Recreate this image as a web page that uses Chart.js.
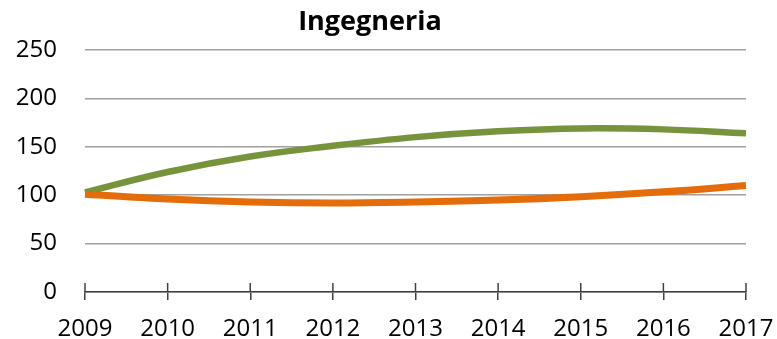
<!DOCTYPE html>
<html>

<head>
  <title>Ingegneria</title>
  <script src="https://cdn.jsdelivr.net/npm/chart.js"></script>
  <style>
    body {
      margin: 0;
      background: #fff;
    }

    .chart-wrap {
      position: relative;
      width: 777px;
      height: 339px;
    }

    .chart-title {
      position: absolute;
      left: 0;
      width: 740px;
      top: 1px;
      text-align: center;
      font-family: 'Open Sans', sans-serif;
      font-weight: bold;
      font-size: 27px;
      color: #000;
    }
  </style>
</head>

<body>
  <div class="chart-wrap">
    <div class="chart-title">Ingegneria</div>
    <canvas id="chart" width="777" height="339"></canvas>
  </div>
  <script>
    const years = ['2009', '2010', '2011', '2012', '2013', '2014', '2015', '2016', '2017'];
    const greenSeries = [103, 124, 140, 151, 160, 166, 169, 168, 164];
    const orangeSeries = [101, 96, 93, 92, 93, 95, 98.5, 103.5, 110];
    const yTicks = [0, 50, 100, 150, 200, 250];

    const labelFont = { family: 'Open Sans', size: 24 };

    // short tick marks that poke up above the x axis line
    const crossTicks = {
      id: 'crossTicks',
      afterDraw(chart) {
        const x = chart.scales.x;
        const ctx = chart.ctx;
        const bottom = chart.chartArea.bottom;
        ctx.save();
        ctx.strokeStyle = '#404040';
        ctx.lineWidth = 1.5;
        x.ticks.forEach((t, i) => {
          const px = x.getPixelForTick(i);
          ctx.beginPath();
          ctx.moveTo(px, bottom - 9);
          ctx.lineTo(px, bottom);
          ctx.stroke();
        });
        ctx.restore();
      }
    };

    new Chart(document.getElementById('chart'), {
      type: 'line',
      data: {
        labels: years,
        datasets: [{
          label: 'B',
          data: orangeSeries,
          borderColor: '#E46C0A',
          borderWidth: 7,
          pointRadius: 0,
          tension: 0.4,
          fill: false
        }, {
          label: 'A',
          data: greenSeries,
          borderColor: '#77933C',
          borderWidth: 6.5,
          pointRadius: 0,
          tension: 0.4,
          fill: false
        }]
      },
      options: {
        responsive: false,
        animation: false,
        devicePixelRatio: 1,
        layout: {
          padding: { top: 50, right: 0, left: 0, bottom: 0 }
        },
        plugins: {
          legend: { display: false },
          title: { display: false },
          tooltip: { enabled: false }
        },
        scales: {
          x: {
            offset: false,
            grid: {
              drawOnChartArea: false,
              tickLength: 8,
              color: '#404040',
              lineWidth: 1.5
            },
            border: { color: '#404040', width: 1.5 },
            ticks: {
              font: labelFont,
              color: '#000',
              padding: 15,
              maxRotation: 0,
              autoSkip: false
            },
            afterFit(s) {
              s.height = 47;
              s.paddingRight = 31;
            }
          },
          y: {
            min: 0,
            max: 250,
            afterBuildTicks(s) { s.ticks = yTicks.map(v => ({ value: v })); },
            grid: {
              color: '#a0a0a0',
              lineWidth: 1.5,
              drawTicks: false
            },
            border: { display: false },
            ticks: {
              font: labelFont,
              color: '#000',
              padding: 28
            },
            afterFit(s) { s.width = 85; }
          }
        }
      },
      plugins: [crossTicks]
    });
  </script>
</body>

</html>
